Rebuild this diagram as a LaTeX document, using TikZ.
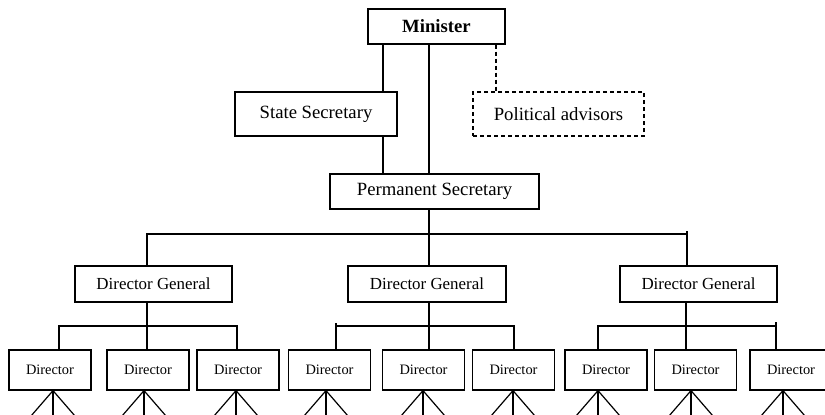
\documentclass[tikz,border=0pt]{standalone}
\usepackage{fontspec}
\setmainfont{Liberation Serif}
\begin{document}
\begin{tikzpicture}[x=1pt,y=-1pt,
  box/.style={draw, line width=1.2pt, inner sep=0pt, minimum height=#1},
  box/.default=35,
  bigtxt/.style={font=\fontsize{18.7}{20}\selectfont},
  dgtxt/.style={font=\fontsize{16.9}{18}\selectfont},
  dirtxt/.style={font=\fontsize{14.4}{16}\selectfont},
  dirbox/.style={box=40, minimum width=82, dirtxt},
  dgbox/.style={box=36, dgtxt},
  link/.style={draw, line width=1.2pt},
  dlink/.style={draw, line width=1.2pt, dash pattern=on 4pt off 3pt}]
\useasboundingbox (0,0) rectangle (825,415);
\clip (0,0) rectangle (825,415);

% top level
\node[box=35, minimum width=137, bigtxt] (min) at (436.5,26.5) {\textbf{Minister}};
\node[box=44, minimum width=162, bigtxt] (ss) at (316,114) {State Secretary};
\node[box=44, minimum width=171, bigtxt, dash pattern=on 4pt off 3pt] (pa) at (558.5,114) {Political advisors};
\node[box=35, minimum width=209, bigtxt] (ps) at (434.5,191.5) {Permanent Secretary};

% director generals
\node[dgbox, minimum width=157] (dg1) at (153.5,284) {Director General};
\node[dgbox, minimum width=158] (dg2) at (427,284) {Director General};
\node[dgbox, minimum width=157] (dg3) at (698.5,284) {Director General};

% directors
\foreach \n/\x in {1/50,2/148,3/238,4/329.5,5/423.5,6/513.5,7/606,8/695.5,9/791}
  \node[dirbox] (d\n) at (\x,370) {Director};

% x positions of connector lines
\coordinate (xa) at (383,0);
\coordinate (xb) at (429,0);
\coordinate (xc) at (496,0);

% minister links
\draw[link] (xa |- min.south) -- (xa |- ss.north);
\draw[link] (xa |- ss.south) -- (xa |- ps.north);
\draw[link] (xb |- min.south) -- (xb |- ps.north);
\draw[dlink] (xc |- min.south) -- (xc |- pa.north);

% PS to DGs
\coordinate (b1) at (147,234);
\coordinate (b2) at (429,234);
\coordinate (b3) at (687,234);
\coordinate (b3t) at (687,231);
\draw[link] (xb |- ps.south) -- (b2);
\draw[link] (b1 |- dg1.north) -- (b1) -- (b3) -- (b3t);
\draw[link] (b2) -- (b2 |- dg2.north);
\draw[link] (b3) -- (b3 |- dg3.north);

% DG1 to directors
\coordinate (s1) at (147,326);
\coordinate (s1l) at (59,326);
\coordinate (s1r) at (237,326);
\draw[link] (s1 |- dg1.south) -- (s1);
\draw[link] (s1l |- d1.north) -- (s1l) -- (s1r) -- (s1r |- d3.north);
\draw[link] (s1) -- (s1 |- d2.north);

% DG2 to directors
\coordinate (s2) at (429,326);
\coordinate (s2l) at (336,326);
\coordinate (s2lt) at (336,323);
\coordinate (s2r) at (514,326);
\draw[link] (s2 |- dg2.south) -- (s2 |- d5.north);
\draw[link] (s2l |- d4.north) -- (s2lt);
\draw[link] (s2l) -- (s2r) -- (s2r |- d6.north);

% DG3 to directors
\coordinate (s3) at (686,326);
\coordinate (s3l) at (598,326);
\coordinate (s3r) at (776,326);
\coordinate (s3rt) at (776,322);
\draw[link] (s3 |- dg3.south) -- (s3 |- d8.north);
\draw[link] (s3l |- d7.north) -- (s3l) -- (s3r);
\draw[link] (s3rt) -- (s3r |- d9.north);

% fans below directors
\foreach \n/\x in {1/53,2/144,3/236,4/326,5/423,6/513,7/598,8/691,9/783}{
  \coordinate (fx\n) at (\x,0);
  \coordinate (f\n) at (fx\n |- d\n.south);
  \coordinate (fl\n) at (\x-22,416);
  \coordinate (fm\n) at (\x,416);
  \coordinate (fr\n) at (\x+22,416);
  \draw[link] (fl\n) -- (f\n) -- (fr\n);
  \draw[link] (f\n) -- (fm\n);
}
\end{tikzpicture}
\end{document}
